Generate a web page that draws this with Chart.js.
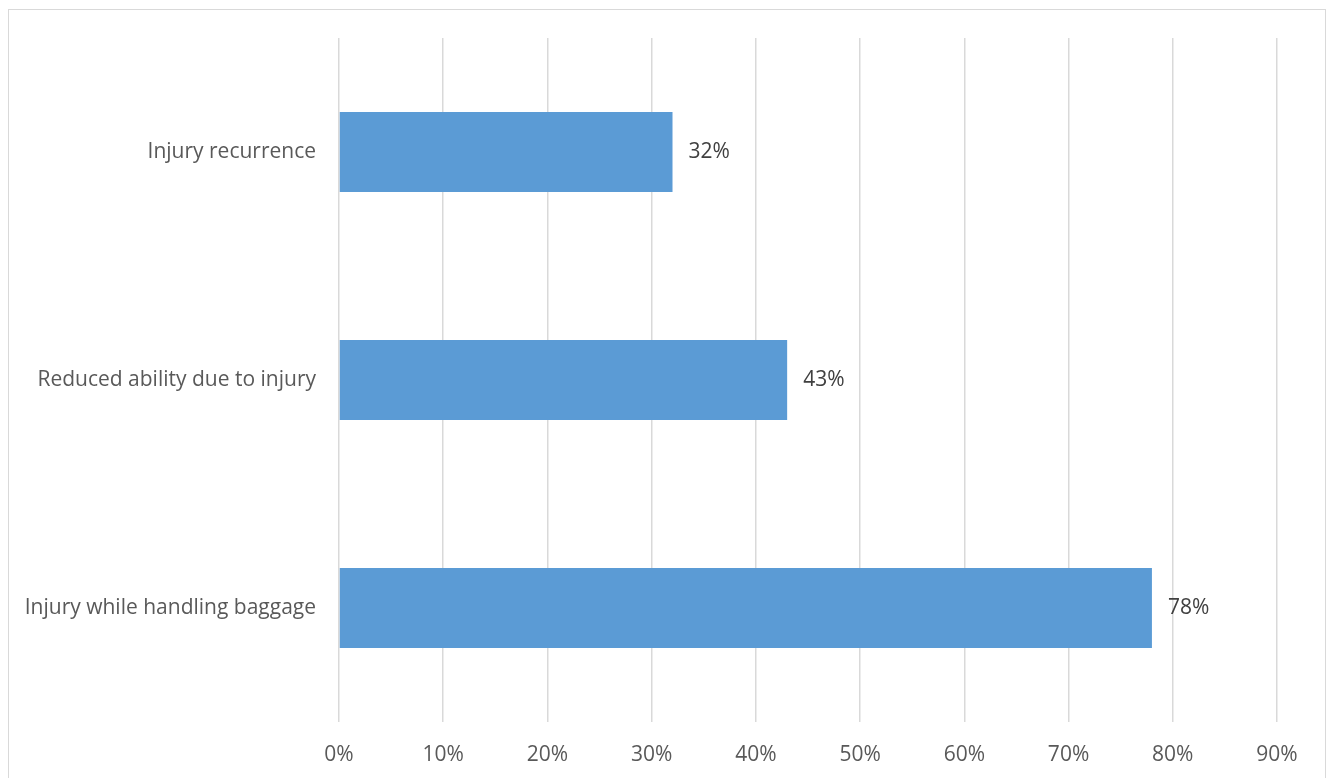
<!DOCTYPE html>
<html>
<head>
<meta charset="utf-8">
<script src="https://cdn.jsdelivr.net/npm/chart.js@4"></script>
<style>
  html, body { margin: 0; padding: 0; background: #fff; }
  .wrap { position: relative; width: 1334px; height: 778px; overflow: hidden; }
  .frame { position: absolute; left: 8px; top: 9px; width: 1318px; height: 800px; border: 1px solid #d9d9d9; box-sizing: border-box; }
  canvas { position: absolute; left: 0; top: 0; }
</style>
</head>
<body>
<div class="wrap">
  <div class="frame"></div>
  <canvas id="injuryChart" width="1334" height="778"></canvas>
</div>
<script>
const categories = ['Injury recurrence', 'Reduced ability due to injury', 'Injury while handling baggage']
const values = [32, 43, 78]
const xTicks = [0, 10, 20, 30, 40, 50, 60, 70, 80, 90]

const FONT = '"Open Sans", Lato, sans-serif'
const FONT_SIZE = 21

// value labels at the bar ends
const barLabels = {
  id: 'barLabels',
  afterDatasetsDraw(chart) {
    const ctx = chart.ctx
    const meta = chart.getDatasetMeta(0)
    ctx.save()
    ctx.font = FONT_SIZE + 'px ' + FONT
    ctx.fillStyle = '#404040'
    ctx.textAlign = 'left'
    ctx.textBaseline = 'middle'
    meta.data.forEach((bar, i) => {
      ctx.fillText(values[i] + '%', bar.x + 16, bar.y)
    })
    ctx.restore()
  }
}

new Chart(document.getElementById('injuryChart'), {
  type: 'bar',
  data: {
    labels: categories,
    datasets: [{
      data: values,
      backgroundColor: '#5b9bd5',
      borderWidth: 0,
      barPercentage: 0.35,
      categoryPercentage: 1
    }]
  },
  options: {
    indexAxis: 'y',
    responsive: false,
    animation: false,
    layout: { padding: { top: 38, right: 57, left: 0, bottom: 0 } },
    plugins: { legend: { display: false }, tooltip: { enabled: false } },
    scales: {
      x: {
        min: 0, max: 90,
        afterBuildTicks(axis) { axis.ticks = xTicks.map(v => ({ value: v })) },
        afterFit(axis) { axis.height = 56 },
        border: { display: false },
        grid: { color: '#d9d9d9', lineWidth: 1.5, drawTicks: false },
        ticks: {
          padding: 20,
          color: '#595959',
          font: { family: FONT, size: FONT_SIZE },
          callback: v => v + '%'
        }
      },
      y: {
        afterFit(axis) { axis.width = 339 },
        border: { display: false },
        grid: { display: false, drawTicks: false },
        ticks: {
          padding: 23,
          color: '#595959',
          font: { family: FONT, size: FONT_SIZE }
        }
      }
    }
  },
  plugins: [barLabels]
})
</script>
</body>
</html>
